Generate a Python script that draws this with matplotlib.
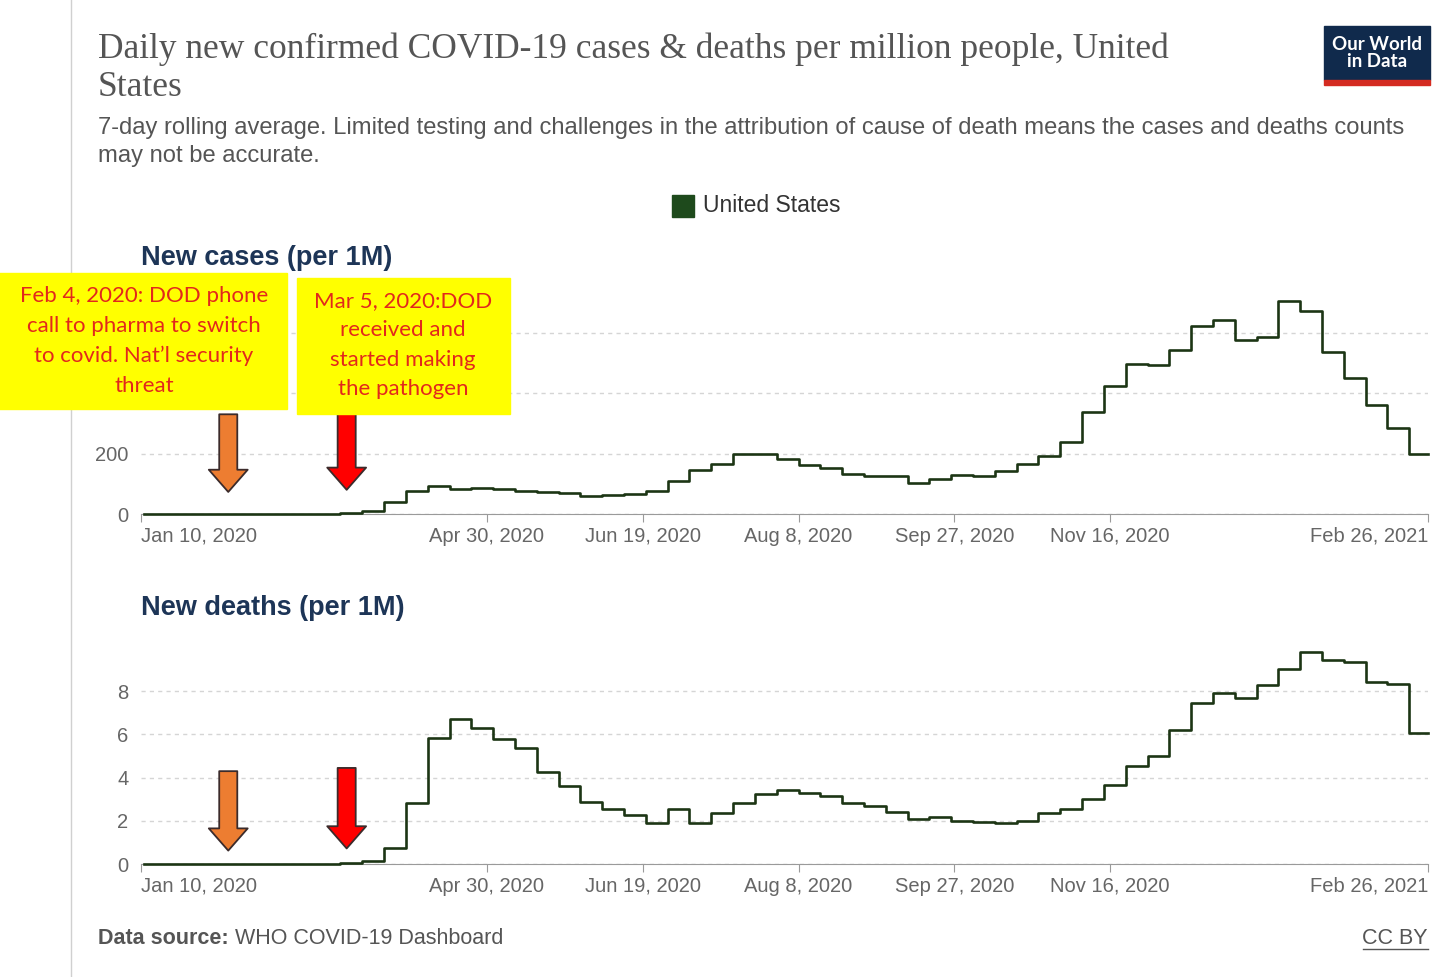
import numpy as np
import pandas as pd
import matplotlib
matplotlib.use('Agg')
import matplotlib.pyplot as plt
from matplotlib.patches import Rectangle

plt.rcParams['font.family'] = ['Liberation Sans', 'DejaVu Sans']

# weekly values (WHO data, 7-day average, per million)
week_start = pd.date_range('2020-01-11', periods=59, freq='7D')
x_start = pd.Timestamp('2020-01-10')
x_end = pd.Timestamp('2021-02-26')

cases = [0, 0, 0, 0, 0, 0, 0.1, 0.2, 0.8, 3,
         10, 40, 75, 93, 83, 86, 84, 77, 72, 70,
         61, 64, 65, 76, 109, 145, 166, 199, 199, 182,
         161, 153, 134, 126, 126, 104, 117, 130, 127, 143,
         166, 192, 238, 336, 425, 497, 492, 543, 621, 641,
         575, 585, 704, 672, 537, 451, 362, 285, 200]

deaths = [0, 0, 0, 0, 0, 0, 0, 0, 0.01, 0.03,
          0.14, 0.73, 2.81, 5.85, 6.71, 6.28, 5.77, 5.39, 4.27, 3.63,
          2.87, 2.53, 2.27, 1.88, 2.56, 1.88, 2.35, 2.81, 3.26, 3.44,
          3.29, 3.13, 2.81, 2.69, 2.39, 2.10, 2.19, 2.01, 1.96, 1.92,
          2.01, 2.38, 2.55, 3.01, 3.66, 4.53, 5.02, 6.23, 7.47, 7.93,
          7.71, 8.27, 9.04, 9.81, 9.46, 9.37, 8.45, 8.36, 6.06]

tick_dates = ['2020-01-10', '2020-04-30', '2020-06-19', '2020-08-08',
              '2020-09-27', '2020-11-16', '2021-02-26']
tick_labels = ['Jan 10, 2020', 'Apr 30, 2020', 'Jun 19, 2020', 'Aug 8, 2020',
               'Sep 27, 2020', 'Nov 16, 2020', 'Feb 26, 2021']

# 400 and 600 labels sit under the pasted yellow box in the original
cases_ticks = [0, 200, 400, 600]
cases_tick_labels = ['0', '200', '', '']
deaths_ticks = [0, 2, 4, 6, 8]
deaths_tick_labels = ['0', '2', '4', '6', '8']

W, H = 1456, 977
line_col = '#1c3514'


def fx(x):
    return x / W


def fy(y):
    return 1 - y / H


fig = plt.figure(figsize=(W / 100, H / 100), dpi=100)

# left border of the screenshot
fig.add_artist(plt.Line2D([fx(71), fx(71)], [0, 1], color='#d0d0d0', lw=1))

fig.text(fx(98), fy(68), 'Daily new confirmed COVID-19 cases & deaths per million people, United\nStates',
         family='Liberation Serif', fontsize=25.5, color='#555555', va='center', ha='left',
         linespacing=1.22)
fig.text(fx(98), fy(142), '7-day rolling average. Limited testing and challenges in the attribution of cause of death means the cases and deaths counts\nmay not be accurate.',
         fontsize=17.1, color='#555555', va='center', ha='left', linespacing=1.3)

# logo
fig.add_artist(Rectangle((fx(1324), fy(80)), fx(1430) - fx(1324), fy(26) - fy(80),
                         transform=fig.transFigure, color='#102a4c'))
fig.add_artist(Rectangle((fx(1324), fy(85)), fx(1430) - fx(1324), fy(80) - fy(85),
                         transform=fig.transFigure, color='#d42b21'))
fig.text(fx(1377), fy(53), 'Our World\nin Data', family=['Lato', 'DejaVu Sans'], fontweight='bold',
         fontsize=13.5, color='white', ha='center', va='center', linespacing=0.95)

# legend
fig.add_artist(Rectangle((fx(672), fy(217)), fx(694) - fx(672), fy(195) - fy(217),
                         transform=fig.transFigure, color='#1e4a1c'))
fig.text(fx(703), fy(206), 'United States', fontsize=16.5, color='#333333', va='center', ha='left')


def panel(ax, vals, yticks, ylabels, ymax, title, title_y):
    xs = list(week_start) + [x_end]
    ys = list(vals) + [vals[-1]]
    ax.step(xs, ys, where='post', color=line_col, lw=1.9, clip_on=False, zorder=3)
    ax.set_xlim(x_start, x_end)
    ax.set_ylim(0, ymax)
    for s in ['top', 'right', 'left']:
        ax.spines[s].set_visible(False)
    ax.spines['bottom'].set_color('#9a9a9a')
    ax.set_yticks(yticks)
    ax.set_yticklabels(ylabels)
    ax.tick_params(axis='y', length=0, pad=9, labelsize=14.5, labelcolor='#666666')
    ax.yaxis.grid(True, linestyle=(0, (3, 3)), color='#d5d5d5', lw=1)
    ax.set_axisbelow(True)
    ax.set_xticks(pd.to_datetime(tick_dates))
    ax.set_xticklabels(tick_labels)
    ax.tick_params(axis='x', length=6, color='#9a9a9a', labelsize=14.5, labelcolor='#666666', pad=3)
    labs = ax.get_xticklabels()
    labs[0].set_ha('left')
    labs[-1].set_ha('right')
    fig.text(fx(141), fy(title_y), title, fontsize=19.5, fontweight='bold', color='#1d3557',
             ha='left', va='center')


ax1 = fig.add_axes([fx(141), fy(514), fx(1428) - fx(141), fy(301) - fy(514)])
panel(ax1, cases, cases_ticks, cases_tick_labels, 705, 'New cases (per 1M)', 258)
ax2 = fig.add_axes([fx(141), fy(864), fx(1428) - fx(141), fy(652) - fy(864)])
panel(ax2, deaths, deaths_ticks, deaths_tick_labels, 9.82, 'New deaths (per 1M)', 608)


def arrow(ax, date, y_tail, y_tip, color):
    ax.annotate('', xy=(pd.Timestamp(date), y_tip), xytext=(pd.Timestamp(date), y_tail),
                arrowprops=dict(arrowstyle='simple,head_length=1.6,head_width=2.8,tail_width=1.3',
                                mutation_scale=10, fc=color, ec='#3b2b2b', lw=1.3,
                                shrinkA=0, shrinkB=0), zorder=6)


arrow(ax1, '2020-02-07', 330, 73, '#ed7d31')
arrow(ax1, '2020-03-16', 345, 80, '#ff0000')
arrow(ax2, '2020-02-07', 4.3, 0.62, '#ed7d31')
arrow(ax2, '2020-03-16', 4.45, 0.72, '#ff0000')

# yellow annotation boxes pasted over the chart
fig.add_artist(Rectangle((fx(-5), fy(409)), fx(287) + 5 / W, fy(273) - fy(409),
                         transform=fig.transFigure, color='#ffff00', zorder=8))
fig.add_artist(Rectangle((fx(297), fy(414)), fx(510) - fx(297), fy(278) - fy(414),
                         transform=fig.transFigure, color='#ffff00', zorder=8))
note_col = '#e2281c'
fig.text(fx(144), fy(341), 'Feb 4, 2020: DOD phone\ncall to pharma to switch\nto covid. Nat\u2019l security\nthreat',
         family=['Lato', 'DejaVu Sans'], fontsize=16, color=note_col, ha='center', va='center',
         linespacing=1.6, zorder=9)
fig.text(fx(403), fy(345), 'Mar 5, 2020:DOD\nreceived and\nstarted making\nthe pathogen',
         family=['Lato', 'DejaVu Sans'], fontsize=16, color=note_col, ha='center', va='center',
         linespacing=1.6, zorder=9)

# footer
fig.text(fx(98), fy(938), 'Data source:', fontsize=15.5, fontweight='bold', color='#555555',
         ha='left', va='center')
fig.text(fx(235), fy(938), 'WHO COVID-19 Dashboard', fontsize=15.5, color='#555555',
         ha='left', va='center')
fig.text(fx(1428), fy(938), 'CC BY', fontsize=15.5, color='#555555', ha='right', va='center')
fig.add_artist(plt.Line2D([fx(1363), fx(1428)], [fy(949), fy(949)], color='#555555', lw=1))

fig.savefig('out.png', dpi=100)
